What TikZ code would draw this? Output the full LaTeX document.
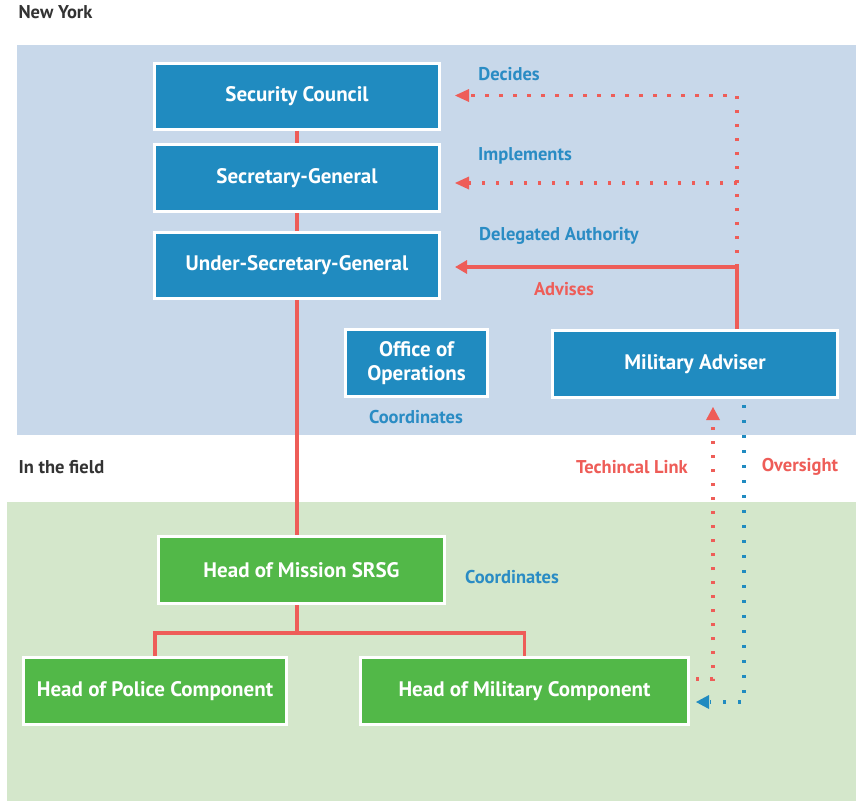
\documentclass[tikz,border=0pt]{standalone}
\usepackage{fontspec}
\setmainfont{PT Sans}
\usetikzlibrary{arrows.meta}
\definecolor{nybg}{HTML}{C8D8EA}
\definecolor{fieldbg}{HTML}{D4E7CB}
\definecolor{boxblue}{HTML}{208BC0}
\definecolor{boxgreen}{HTML}{52B848}
\definecolor{linered}{HTML}{EE5D58}
\definecolor{lblblue}{HTML}{2A8CC4}
\definecolor{headgray}{HTML}{333333}
\tikzset{
  orgbox/.style={draw=white, line width=3pt, text=white, font=\bfseries\fontsize{21}{24}\selectfont, align=center, inner sep=0pt},
  bluebox/.style={orgbox, fill=boxblue},
  greenbox/.style={orgbox, fill=boxgreen},
  redline/.style={linered, line width=3.2pt},
  reddots/.style={linered, line width=3.2pt, dash pattern=on 3.2pt off 10.8pt},
  bluedots/.style={boxblue, line width=3.2pt, dash pattern=on 3.2pt off 11.8pt},
  tipred/.style={-{Triangle[length=12pt,width=13pt]}},
  bluelbl/.style={text=lblblue, font=\bfseries\fontsize{18.5}{22}\selectfont},
  redlbl/.style={text=linered, font=\bfseries\fontsize{18.5}{22}\selectfont},
  headlbl/.style={text=headgray, font=\bfseries\fontsize{18.5}{22}\selectfont, anchor=west},
}
\begin{document}
\begin{tikzpicture}[x=1pt,y=-1pt]
\useasboundingbox (0,0) rectangle (856,801);
\fill[nybg] (17,45) rectangle (856,435);
\fill[fieldbg] (7,502) rectangle (856,801);
\node[headlbl] (ny) at (15,12) {New York};
\node[headlbl] (field) at (15,467) {In the field};

\node[bluebox, minimum width=285pt, minimum height=66pt] (sc) at (297,96) {Security Council};
\node[bluebox, minimum width=285pt, minimum height=67pt] (sg) at (297,178) {Secretary-General};
\node[bluebox, minimum width=285pt, minimum height=66pt] (usg) at (297,265.5) {Under-Secretary-General};
\node[bluebox, minimum width=142pt, minimum height=67pt] (oo) at (416.5,363) {Office of\\Operations};
\node[bluebox, minimum width=285pt, minimum height=67pt] (ma) at (695,364) {Military Adviser};
\node[greenbox, minimum width=286pt, minimum height=67pt] (hm) at (301.5,570) {Head of Mission SRSG};
\node[greenbox, minimum width=263pt, minimum height=67pt] (hp) at (155,691) {Head of Police Component};
\node[greenbox, minimum width=328pt, minimum height=67pt] (hmc) at (524.5,691) {Head of Military Component};

% vertical chain
\draw[redline] (sc.south -| 297,0) -- (sg.north -| 297,0);
\draw[redline] (sg.south -| 297,0) -- (usg.north -| 297,0);
\draw[redline] (usg.south -| 297,0) -- (hm.north -| 297,0);
\coordinate (split) at (297,633);
\draw[redline] (hm.south -| split) -- (split);
\draw[redline] (hp.north) |- (split) -| (hmc.north);

% advisor links
\coordinate (corner) at (737,267);
\coordinate (topc) at (737,95.5);
\coordinate (midc) at (737,183);
\draw[redline, tipred] (ma.north -| corner) |- ([xshift=14pt]usg.east |- corner);
\draw[reddots] (corner) -- (topc) -- ([xshift=26pt]sc.east |- topc);
\draw[reddots] (midc) -- ([xshift=26pt]sg.east |- midc);
\fill[linered] ([xshift=14pt]sc.east |- topc) -- ++(14,-6.5) -- ++(0,13) -- cycle;
\fill[linered] ([xshift=14pt]sg.east |- midc) -- ++(14,-6.5) -- ++(0,13) -- cycle;

\node[bluelbl] (l1) at (509,74) {Decides};
\node[bluelbl] (l2) at (525,156) {Implements};
\node[bluelbl] (l3) at (559,236) {Delegated Authority};
\node[redlbl] (l4) at (564,289) {Advises};
\node[bluelbl] (l5) at (416,417) {Coordinates};
\node[bluelbl] (l6) at (512,577) {Coordinates};
\node[redlbl] (l7) at (632,467) {Techincal Link};
\node[redlbl] (l8) at (800,467) {Oversight};

% technical link and oversight
\coordinate (tl) at (713,679);
\coordinate (tltop) at (713,421);
\draw[reddots] ([xshift=6pt]hmc.east |- tl) -- (tl) -- (tltop);
\fill[linered] (713,407) -- ++(-7,13) -- ++(14,0) -- cycle;
\coordinate (ov) at (744,702);
\coordinate (ovtop) at (744,405);
\draw[bluedots] (ovtop) -- (ov) -- ([xshift=20pt]hmc.east |- ov);
\fill[boxblue] ([xshift=6pt]hmc.east |- ov) -- ++(13,-7) -- ++(0,14) -- cycle;
\end{tikzpicture}
\end{document}
